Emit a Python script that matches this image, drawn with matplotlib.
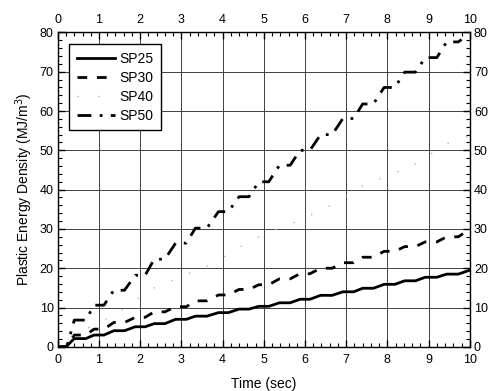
import numpy as np
import matplotlib
matplotlib.use('Agg')
import matplotlib.pyplot as plt
from matplotlib.ticker import MultipleLocator

plt.rcParams['font.family'] = ['Liberation Sans', 'DejaVu Sans']

# plateau start / end times (sec) of each loading step, shared by all specimens
step_start = [0.40, 0.88, 1.36, 1.88, 2.34, 2.86, 3.34, 3.90, 4.40, 4.88,
              5.38, 5.88, 6.38, 6.92, 7.40, 7.92, 8.42, 8.92, 9.44]
step_end = [0.68, 1.12, 1.62, 2.12, 2.60, 3.12, 3.62, 4.14, 4.64, 5.12,
            5.64, 6.12, 6.66, 7.18, 7.66, 8.18, 8.68, 9.20, 9.72]

# plastic energy density at each plateau (MJ/m^3)
sp25 = [2.1, 3.0, 4.1, 5.1, 5.9, 7.0, 7.8, 8.7, 9.6, 10.3,
        11.2, 12.1, 13.1, 14.0, 14.9, 15.9, 16.8, 17.7, 18.5]
sp30 = [3.0, 4.5, 6.2, 7.5, 8.9, 10.2, 11.7, 13.2, 14.6, 15.8,
        17.3, 18.6, 20.0, 21.4, 22.8, 24.3, 25.5, 26.7, 28.0]
sp40 = [4.0, 6.5, 9.5, 12.3, 15.0, 17.8, 20.5, 23.0, 25.6, 28.0,
        30.6, 33.2, 35.8, 38.3, 41.0, 43.8, 46.5, 49.2, 51.8]
sp50 = [6.8, 10.6, 14.4, 18.2, 22.3, 26.4, 30.2, 34.4, 38.2, 42.0,
        46.2, 50.0, 54.0, 58.1, 61.8, 66.0, 69.9, 73.6, 77.6]

# onset of plastic work and last recorded point of each record
onset = {'SP25': 0.20, 'SP30': 0.20, 'SP40': 0.20, 'SP50': 0.22}
last_point = {'SP25': (10.0, 19.5), 'SP30': (10.0, 29.9),
              'SP40': (10.0, 54.0), 'SP50': (9.80, 78.2)}


def staircase(name, levels):
    t = [0.0, onset[name]]
    e = [0.0, 0.0]
    for t0, t1, lv in zip(step_start, step_end, levels):
        t += [t0, t1]
        e += [lv, lv]
    t.append(last_point[name][0])
    e.append(last_point[name][1])
    return np.array(t), np.array(e)


fig = plt.figure(figsize=(4.94, 3.91), dpi=100)
ax = fig.add_axes([0.117, 0.113, 0.834, 0.804])

t, e = staircase('SP25', sp25)
ax.plot(t, e, color='black', lw=2.0, ls='-', label='SP25')
t, e = staircase('SP30', sp30)
ax.plot(t, e, color='black', lw=2.0, ls=(0, (3.5, 3.5)), label='SP30')
t, e = staircase('SP40', sp40)
ax.plot(t, e, color='0.7', lw=1.0, ls=(0, (1, 14)), label='SP40')
t, e = staircase('SP50', sp50)
ax.plot(t, e, color='black', lw=2.0, ls=(0, (5, 3, 1, 3)), label='SP50')

ax.set_xlim(0, 10)
ax.set_ylim(0, 80)
ax.xaxis.set_major_locator(MultipleLocator(1))
ax.xaxis.set_minor_locator(MultipleLocator(0.2))
ax.yaxis.set_major_locator(MultipleLocator(10))
ax.yaxis.set_minor_locator(MultipleLocator(2))
ax.grid(True, which='major', color='0.25', lw=0.7)
ax.set_axisbelow(True)

ax.tick_params(which='both', direction='in', top=True, right=True,
               labeltop=True, labelright=True, labelsize=9, pad=3)
ax.tick_params(axis='x', which='major', pad=5)
ax.tick_params(which='major', length=5, width=1)
ax.tick_params(which='minor', length=3, width=0.8)
for s in ax.spines.values():
    s.set_linewidth(1.0)

ax.set_xlabel('Time (sec)', fontsize=10, labelpad=8)
ax.set_ylabel('Plastic Energy Density (MJ/m$^3$)', fontsize=10, labelpad=3)

leg = ax.legend(loc='upper left', bbox_to_anchor=(0.027, 0.963), fontsize=10,
                handlelength=2.8, handletextpad=0.25, labelspacing=0.36,
                borderpad=0.55, fancybox=False, framealpha=1, borderaxespad=0)
leg.get_frame().set_edgecolor('black')
leg.get_frame().set_linewidth(1.0)

fig.savefig('out.png', dpi=100)
